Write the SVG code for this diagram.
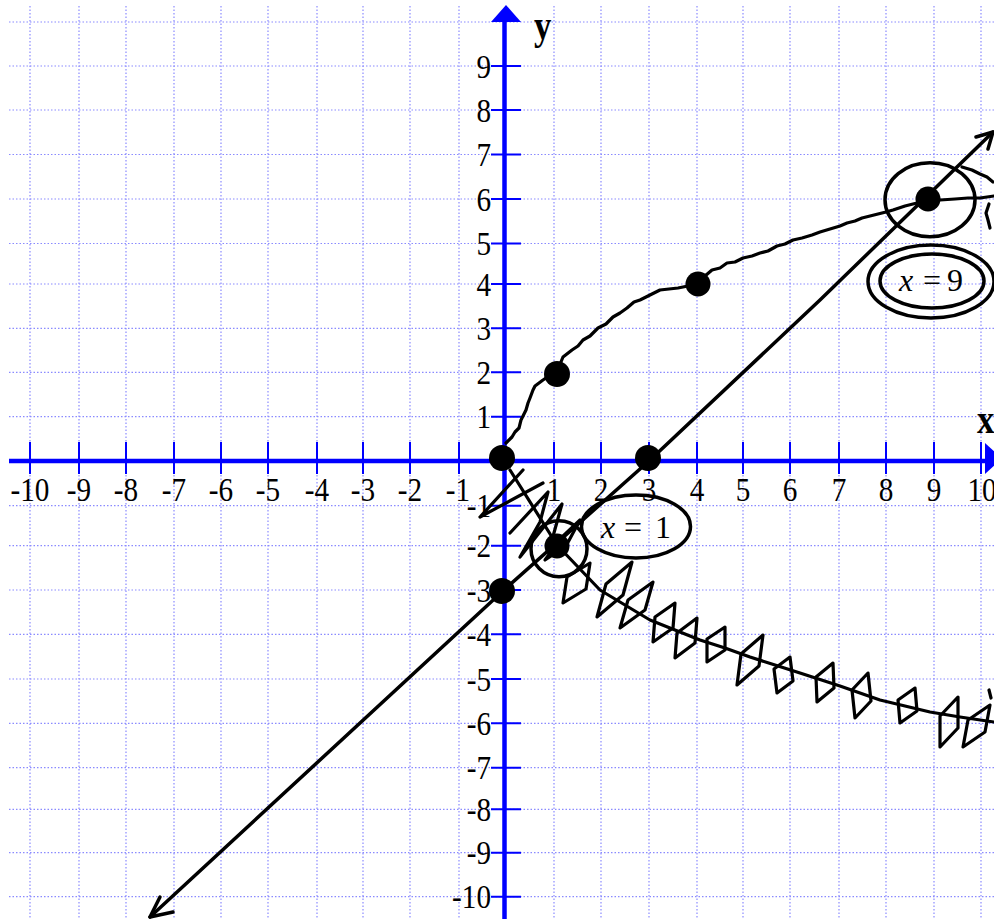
<svg xmlns="http://www.w3.org/2000/svg" width="994" height="919" viewBox="0 0 994 919">
<defs>
<style>
.grid{stroke:#8a8aff;stroke-width:1.2;stroke-dasharray:1.5 2;fill:none}
.axis{stroke:#0000ff;stroke-width:4.5;fill:none}
.tick{stroke:#0000ff;stroke-width:2}
.lbl{font-family:"Liberation Serif","Times New Roman",serif;font-size:34px;fill:#000}
.ax{font-family:"Liberation Serif","Times New Roman",serif;font-size:40px;font-weight:bold;fill:#000}
.math{font-family:"Liberation Serif","Times New Roman",serif;font-size:32px;fill:#000}
.ink{fill:none;stroke:#000;stroke-width:3.5;stroke-linecap:round;stroke-linejoin:round}
.thin{fill:none;stroke:#000;stroke-width:3.2;stroke-linecap:round;stroke-linejoin:round}
.dot{fill:#000}
</style>
</defs>
<rect width="994" height="919" fill="#fff"/>
<g id="grid">
<path class="grid" d="M30,6V919M79,6V919M126,6V919M174,6V919M221,6V919M268,6V919M317,6V919M363,6V919M410,6V919M459,6V919M554,6V919M601,6V919M649,6V919M697,6V919M743,6V919M790,6V919M839,6V919M886,6V919M934,6V919M981,6V919"/>
<path class="grid" d="M9,22H994M9,66H994M9,110H994M9,154.5H994M9,199H994M9,243.5H994M9,284H994M9,328.3H994M9,372.3H994M9,416.7H994M9,505.7H994M9,545.7H994M9,590H994M9,634.3H994M9,679H994M9,723.3H994M9,767.7H994M9,809.3H994M9,852.7H994M9,896.7H994"/>
</g>
<g id="axes">
<line class="axis" x1="9" y1="461" x2="986" y2="461"/>
<polygon fill="#0000ff" points="985,443 985,474 1002,458.5"/>
<line class="axis" x1="504.5" y1="919" x2="504.5" y2="21"/>
<polygon fill="#0000ff" points="491,22 521,22 506,5"/>
<path class="tick" d="M30,442V474M79,442V474M126,442V474M174,442V474M221,442V474M268,442V474M317,442V474M363,442V474M410,442V474M459,442V474M554,442V474M601,442V474M649,442V474M697,442V474M743,442V474M790,442V474M839,442V474M886,442V474M934,442V474M981,442V474"/>
<path class="tick" d="M491,66H521M491,110H521M491,154.5H521M491,199H521M491,243.5H521M491,284H521M491,328.3H521M491,372.3H521M491,416.7H521M491,505.7H521M491,545.7H521M491,590H521M491,634.3H521M491,679H521M491,723.3H521M491,767.7H521M491,809.3H521M491,852.7H521M491,896.7H521"/>
</g>
<g id="x-labels" class="lbl" text-anchor="middle">
<text transform="translate(30,501) scale(0.86,1)">-10</text>
<text transform="translate(79,501) scale(0.86,1)">-9</text>
<text transform="translate(126,501) scale(0.86,1)">-8</text>
<text transform="translate(174,501) scale(0.86,1)">-7</text>
<text transform="translate(221,501) scale(0.86,1)">-6</text>
<text transform="translate(268,501) scale(0.86,1)">-5</text>
<text transform="translate(317,501) scale(0.86,1)">-4</text>
<text transform="translate(363,501) scale(0.86,1)">-3</text>
<text transform="translate(410,501) scale(0.86,1)">-2</text>
<text transform="translate(458,501) scale(0.86,1)">-1</text>
<text transform="translate(554,501) scale(0.86,1)">1</text>
<text transform="translate(601,501) scale(0.86,1)">2</text>
<text transform="translate(649,501) scale(0.86,1)">3</text>
<text transform="translate(697,501) scale(0.86,1)">4</text>
<text transform="translate(743,501) scale(0.86,1)">5</text>
<text transform="translate(790,501) scale(0.86,1)">6</text>
<text transform="translate(839,501) scale(0.86,1)">7</text>
<text transform="translate(886,501) scale(0.86,1)">8</text>
<text transform="translate(934,501) scale(0.86,1)">9</text>
<text transform="translate(982,501) scale(0.86,1)">10</text>
</g>
<g id="y-labels" class="lbl" text-anchor="end">
<text transform="translate(491,77.5) scale(0.86,1)">9</text>
<text transform="translate(491,121.5) scale(0.86,1)">8</text>
<text transform="translate(491,166) scale(0.86,1)">7</text>
<text transform="translate(491,210.5) scale(0.86,1)">6</text>
<text transform="translate(491,255) scale(0.86,1)">5</text>
<text transform="translate(491,295.5) scale(0.86,1)">4</text>
<text transform="translate(491,340) scale(0.86,1)">3</text>
<text transform="translate(491,384) scale(0.86,1)">2</text>
<text transform="translate(491,428) scale(0.86,1)">1</text>
<text transform="translate(491,517) scale(0.86,1)">-1</text>
<text transform="translate(491,557) scale(0.86,1)">-2</text>
<text transform="translate(491,601.5) scale(0.86,1)">-3</text>
<text transform="translate(491,646) scale(0.86,1)">-4</text>
<text transform="translate(491,690.5) scale(0.86,1)">-5</text>
<text transform="translate(491,735) scale(0.86,1)">-6</text>
<text transform="translate(491,779) scale(0.86,1)">-7</text>
<text transform="translate(491,821) scale(0.86,1)">-8</text>
<text transform="translate(491,864) scale(0.86,1)">-9</text>
<text transform="translate(491,908) scale(0.86,1)">-10</text>
</g>
<g id="axis-names" class="ax">
<text transform="translate(534,39) scale(0.87,1)">y</text>
<text transform="translate(977,433) scale(0.87,1)">x</text>
</g>
<g id="connectors">
<polyline id="line-y-x-3" class="ink" points="150,917 504,590 649,461 820,300 993,132"/>
<polyline class="ink" points="160,897 150,917 173,912"/>
<polyline class="ink" points="976,137 993,132 988,149"/>
<path id="sqrt-upper" class="thin" d="M506,443 L512,437 L515,432 L519,428 L521,420 L526,410 L528,403 L530,398 L533,390 L535,386 L543,380 L549,376 L556,374 L563,357 L572,350 L578,346 L583,340 L590,336 L598,328 L606,324 L613,317 L620,313 L627,308 L634,302 L640,300 L652,294 L660,290 L678,288 L698,284 L705,276 L712,270 L720,268 L727,263 L735,262 L743,258 L752,256 L760,253 L768,251 L777,246 L785,244 L793,240 L802,238 L812,235 L820,232 L830,229 L840,226 L847,223 L855,221 L862,218 L870,216 L878,214 L886,212 L893,210 L905,206 L917,203 L928,199 L940,200 L955,199 L968,198 L980,198 L994,196"/>
<path class="thin" d="M962,167 L972,170 L980,174 L987,177 L993,182"/>
<path class="thin" d="M989,204 L986,213 L988,220 L990,228"/>
<path id="sqrt-lower-scribble" class="thin" d="M510,470 L557,545 L600,590 L650,620 L675,630 L700,640 L725,648 L750,657 L775,665 L800,673 L840,686 L880,700 L905,706 L930,712 L960,717 L994,722"/>
<polyline class="thin" points="523,470 480,517 543,483"/>
<polyline class="thin" points="510,533 548,492 540,522 520,557 562,504 552,540"/>
<path class="thin" d="M545,560 L566,546 L580,520 L561,538 Z"/>
<path class="thin" d="M563,603 L586,589 L590,563 L567,577 Z"/>
<path class="thin" d="M597,617 L623,595 L632,562 L606,584 Z"/>
<path class="thin" d="M620,628 L645,610 L653,582 L628,600 Z"/>
<path class="thin" d="M653,642 L673,628 L675,603 L655,617 Z"/>
<path class="thin" d="M675,658 L695,643 L697,618 L677,633 Z"/>
<path class="thin" d="M707,662 L725,650 L725,627 L707,639 Z"/>
<path class="thin" d="M737,685 L759,666 L763,635 L741,654 Z"/>
<path class="thin" d="M777,693 L793,681 L790,657 L774,669 Z"/>
<path class="thin" d="M817,702 L834,688 L833,663 L816,677 Z"/>
<path class="thin" d="M855,718 L871,701 L868,673 L852,690 Z"/>
<path class="thin" d="M900,723 L917,711 L915,688 L898,700 Z"/>
<path class="thin" d="M940,747 L958,728 L958,697 L940,716 Z"/>
<path class="thin" d="M963,747 L985,732 L990,705 L968,720 Z"/>
<path class="thin" d="M989,690 L991,698"/>
</g>
<g id="points">
<circle class="dot" cx="502" cy="458" r="13"/>
<circle class="dot" cx="557" cy="374" r="13"/>
<circle class="dot" cx="648" cy="458" r="13"/>
<circle class="dot" cx="698" cy="284" r="12.5"/>
<circle class="dot" cx="928" cy="199" r="12.5"/>
<circle class="dot" cx="557" cy="546" r="12.5"/>
<circle class="dot" cx="502" cy="591" r="13"/>
</g>
<g id="note-x1">
<circle class="ink" cx="559" cy="548.7" r="28"/>
<ellipse class="ink" cx="636" cy="526.5" rx="54.5" ry="31.5"/>
<text class="math" y="538"><tspan x="601" font-style="italic">x</tspan><tspan x="624">=</tspan><tspan x="655">1</tspan></text>
</g>
<g id="note-x9">
<ellipse class="ink" cx="930" cy="199.7" rx="45" ry="37"/>
<ellipse class="ink" cx="931" cy="281.5" rx="63" ry="36.5"/>
<ellipse class="ink" cx="932" cy="281" rx="52" ry="27"/>
<text class="math" y="291"><tspan x="899" font-style="italic">x</tspan><tspan x="923">=</tspan><tspan x="947">9</tspan></text>
</g>
</svg>
